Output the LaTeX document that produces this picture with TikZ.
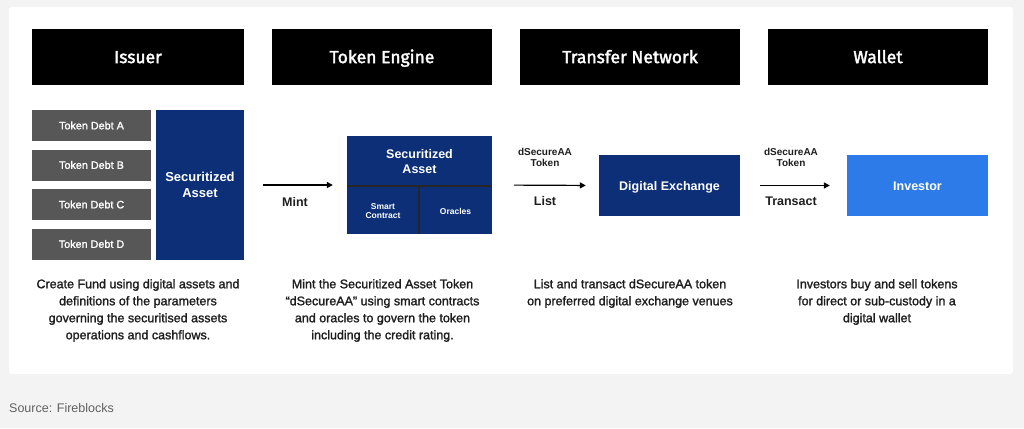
\documentclass[tikz,border=0pt]{standalone}
\usepackage{fontspec}
\setmainfont{Liberation Sans}
\newfontfamily\hdrfont[FakeBold=2]{Fira Sans}
\usetikzlibrary{arrows.meta}
\definecolor{navy}{HTML}{0C2F77}
\definecolor{tgray}{HTML}{575757}
\definecolor{iblue}{HTML}{2D7BE8}
\definecolor{bgray}{HTML}{F3F3F3}
\definecolor{txt}{HTML}{1E1E1E}
\begin{document}
\begin{tikzpicture}[x=1pt,y=-1pt,
  hdr/.style={fill=black,text=white,minimum width=220pt,minimum height=56pt,inner sep=0pt,text height=14pt,text depth=1.8pt,font=\hdrfont\fontsize{17.5}{20}\selectfont},
  debt/.style={fill=tgray,text=white,minimum width=119pt,minimum height=31pt,inner sep=0pt,font=\fontsize{10.8}{12}\selectfont\addfontfeature{FakeBold=1.5}},
  blue/.style={fill=navy,text=white,inner sep=0pt,align=center},
  lbl/.style={text=txt,align=center,inner sep=0pt,font=\fontsize{10}{11}\selectfont\bfseries},
  desc/.style={text=txt,align=center,inner sep=0pt,font=\fontsize{12.5}{17}\selectfont\addfontfeature{FakeBold=1.5}},
  arr/.style={-{Triangle[length=6pt,width=6pt]},line width=1.2pt,black},
  div/.style={line width=1.5pt,black!85}]
\useasboundingbox (0,0) rectangle (1024,428);
\fill[bgray] (0,0) rectangle (1024,428);
\fill[white,rounded corners=3pt] (9,7) rectangle (1013,374);
% headers
\node[hdr,minimum width=212pt] (h1) at (138,57) {Issuer};
\node[hdr] (h2) at (382,57) {Token Engine};
\node[hdr] (h3) at (630,57) {Transfer Network};
\node[hdr] (h4) at (878,57) {Wallet};
% issuer
\node[debt] (da) at (91.5,125.5) {Token Debt A};
\node[debt] (db) at (91.5,165) {Token Debt B};
\node[debt] (dc) at (91.5,204.5) {Token Debt C};
\node[debt] (dd) at (91.5,244) {Token Debt D};
\node[blue,minimum width=88pt,minimum height=150pt,font=\fontsize{13}{15.5}\selectfont\bfseries] (sa) at (200,185) {Securitized\\Asset};
% token engine
\node[blue,minimum width=145pt,minimum height=98pt] (te) at (419.5,185) {};
\node[blue,font=\fontsize{12.5}{15}\selectfont\bfseries] (tetop) at (419.5,161.5) {Securitized\\Asset};
\coordinate (dl) at (347,186);
\coordinate (dr) at (492,186);
\coordinate (vt) at (419,186);
\coordinate (vb) at (419,234);
\draw[div] (dl) -- (dr);
\draw[div] (vt) -- (vb);
\node[blue,font=\fontsize{8.5}{9.5}\selectfont\bfseries] (tesc) at (383,211) {Smart\\Contract};
\node[blue,font=\fontsize{8.5}{9.5}\selectfont\bfseries] (teor) at (455.5,211) {Oracles};
% transfer
\node[blue,minimum width=141pt,minimum height=61pt,text height=11pt,text depth=2pt,font=\fontsize{12.5}{15}\selectfont\bfseries] (de) at (669.5,185.5) {Digital Exchange};
\node[blue,fill=iblue,minimum width=141pt,minimum height=61pt,text height=11pt,text depth=2pt,font=\fontsize{12.5}{15}\selectfont\bfseries] (inv) at (917.5,185.5) {Investor};
% arrows
\draw[arr,shorten <=19pt,shorten >=14pt] (sa.east) -- (te.west);
\draw[arr,shorten <=22pt,shorten >=13pt] (te.east) -- (de.west);
\draw[arr,shorten <=20pt,shorten >=17pt] (de.east) -- (inv.west);
\node[lbl,font=\fontsize{12.5}{14}\selectfont\bfseries] (mint) at (295,202) {Mint};
\node[lbl] (tok1) at (545,157) {dSecureAA\\Token};
\node[lbl,font=\fontsize{12.5}{14}\selectfont\bfseries] (list) at (545,201) {List};
\node[lbl] (tok2) at (791,157) {dSecureAA\\Token};
\node[lbl,font=\fontsize{12.5}{14}\selectfont\bfseries] (trans) at (791,201) {Transact};
% descriptions
\node[desc,anchor=north] (t1) at (138,279) {Create Fund using digital assets and\\definitions of the parameters\\governing the securitised assets\\operations and cashflows.};
\node[desc,anchor=north] (t2) at (382.5,279) {Mint the Securitized Asset Token\\“dSecureAA” using smart contracts\\and oracles to govern the token\\including the credit rating.};
\node[desc,anchor=north] (t3) at (630,279) {List and transact dSecureAA token\\on preferred digital exchange venues};
\node[desc,anchor=north] (t4) at (877,279) {Investors buy and sell tokens\\for direct or sub-custody in a\\digital wallet};
\node[anchor=west,text=black!62,inner sep=0pt,font=\fontsize{12.5}{14}\selectfont] (src) at (9,408) {Source: Fireblocks};
\end{tikzpicture}
\end{document}
